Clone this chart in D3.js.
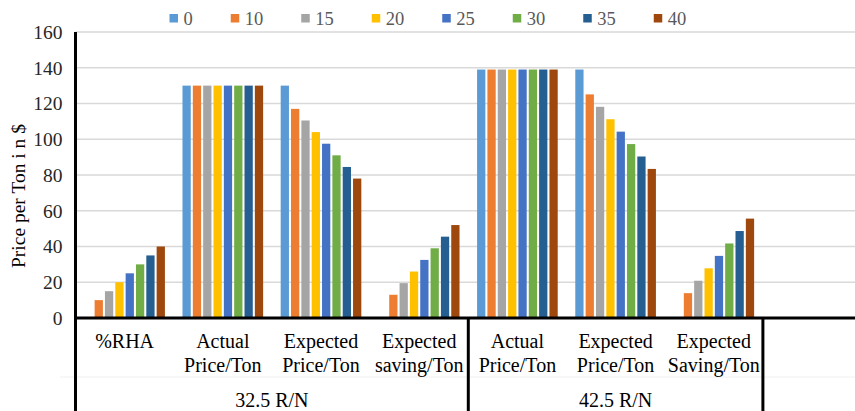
<!DOCTYPE html>
<html>
<head>
<meta charset="utf-8">
<script src="https://cdn.jsdelivr.net/npm/d3@7"></script>
<style>
  html, body { margin: 0; padding: 0; background: #fff; }
</style>
</head>
<body>
<svg id="chart" width="855" height="411"></svg>
<script>
// Categories along the x axis (the last slot is left empty)
const categories = ["%RHA", "Actual Price/Ton", "Expected Price/Ton", "Expected saving/Ton",
                    "Actual Price/Ton ", "Expected Price/Ton ", "Expected Saving/Ton", ""];
const categoryLines = [["%RHA"], ["Actual", "Price/Ton"], ["Expected", "Price/Ton"], ["Expected", "saving/Ton"],
                       ["Actual", "Price/Ton"], ["Expected", "Price/Ton"], ["Expected", "Saving/Ton"], []];
const groups = ["32.5 R/N", "42.5 R/N"];
const groupSpans = [[0, 4], [4, 7]];

// Series: % rice husk ash replacement
const seriesNames = ["0", "10", "15", "20", "25", "30", "35", "40"];
const s0  = [0,  130, 130,   0,    139, 139,    0,     null];
const s10 = [10, 130, 117,   13,   139, 125.1,  13.9,  null];
const s15 = [15, 130, 110.5, 19.5, 139, 118.15, 20.85, null];
const s20 = [20, 130, 104,   26,   139, 111.2,  27.8,  null];
const s25 = [25, 130, 97.5,  32.5, 139, 104.25, 34.75, null];
const s30 = [30, 130, 91,    39,   139, 97.3,   41.7,  null];
const s35 = [35, 130, 84.5,  45.5, 139, 90.35,  48.65, null];
const s40 = [40, 130, 78,    52,   139, 83.4,   55.6,  null];
const seriesValues = [s0, s10, s15, s20, s25, s30, s35, s40];
const colors = ["#5B9BD5", "#ED7D31", "#A5A5A5", "#FFC000", "#4472C4", "#70AD47", "#255E91", "#9E480E"];
const yTicks = [0, 20, 40, 60, 80, 100, 120, 140, 160];

const FONT = "Liberation Serif";
const svg = d3.select("#chart").attr("font-family", FONT);
const plotLeft = 75.5, plotTop = 32, plotBottom = 318;
const bandW = 98.2;

const x0 = d3.scaleBand().domain(categories)
  .range([plotLeft, plotLeft + bandW * categories.length]).padding(0);
const y = d3.scaleLinear().domain([0, 160]).range([plotBottom, plotTop]);

// Gridlines
svg.append("g").selectAll("line").data(yTicks.filter(d => d > 0)).join("line")
  .attr("x1", plotLeft).attr("x2", 855)
  .attr("y1", d => y(d)).attr("y2", d => y(d))
  .attr("stroke", "#d9d9d9").attr("stroke-width", 1.5);

// Bars
const groupW = 82.7;
const x1 = d3.scaleBand().domain(seriesNames)
  .range([-groupW / 2, groupW / 2]).paddingInner(0.2).paddingOuter(0.1);

const barData = [];
seriesValues.forEach((vals, si) => {
  vals.forEach((v, ci) => {
    if (v !== null && v > 0) barData.push({ s: seriesNames[si], c: categories[ci], v, color: colors[si] });
  });
});
svg.append("g").selectAll("rect").data(barData).join("rect")
  .attr("x", d => x0(d.c) + x0.bandwidth() / 2 + x1(d.s))
  .attr("width", x1.bandwidth())
  .attr("y", d => y(d.v))
  .attr("height", d => y(0) - y(d.v))
  .attr("fill", d => d.color);

// Y axis ticks
const yAxis = d3.axisLeft(y).tickValues(yTicks).tickSize(0).tickPadding(13);
const yg = svg.append("g").attr("transform", `translate(${plotLeft},0)`).call(yAxis)
  .attr("font-family", FONT).attr("font-size", 19.5);
yg.select(".domain").remove();
yg.selectAll("text").attr("fill", "#262626");

// Faint rule between the two label levels
svg.append("line").attr("x1", 60).attr("x2", 855).attr("y1", 377).attr("y2", 377)
  .attr("stroke", "#f0f0f0").attr("stroke-width", 1);

// Axis lines
svg.append("line").attr("x1", plotLeft).attr("x2", plotLeft).attr("y1", plotTop).attr("y2", 411)
  .attr("stroke", "#000").attr("stroke-width", 3);
svg.append("line").attr("x1", plotLeft - 1.5).attr("x2", 855).attr("y1", plotBottom).attr("y2", plotBottom)
  .attr("stroke", "#000").attr("stroke-width", 3);
// Group separators
groupSpans.forEach(([a, b]) => {
  const xb = x0(categories[b]);
  svg.append("line").attr("x1", xb).attr("x2", xb).attr("y1", plotBottom).attr("y2", 411)
    .attr("stroke", "#000").attr("stroke-width", 3);
});

// Category labels
const catG = svg.append("g").attr("font-family", FONT).attr("font-size", 20)
  .attr("fill", "#000").attr("text-anchor", "middle");
categories.forEach((c, i) => {
  const cx = x0(c) + x0.bandwidth() / 2;
  categoryLines[i].forEach((t, li) => {
    catG.append("text").attr("x", cx).attr("y", 348 + li * 24).text(t);
  });
});
// Group labels
groups.forEach((g, i) => {
  const [a, b] = groupSpans[i];
  const cx = (x0(categories[a]) + x0(categories[b])) / 2;
  catG.append("text").attr("x", cx).attr("y", 407).text(g);
});

// Y axis title
svg.append("text")
  .attr("transform", "translate(25,196) rotate(-90)")
  .attr("font-family", FONT)
  .attr("text-anchor", "middle").attr("font-size", 19.5).attr("fill", "#000")
  .text("Price per Ton i n $");

// Legend
const legend = svg.append("g").attr("font-family", FONT).attr("font-size", 18.5).attr("fill", "#595959");
let lx = 169.5;
seriesNames.forEach((n, i) => {
  legend.append("rect").attr("x", lx).attr("y", 14).attr("width", 8.5).attr("height", 8.5).attr("fill", colors[i]);
  const t = legend.append("text").attr("x", lx + 14).attr("y", 24.5).text(n);
  const w = t.node().getComputedTextLength();
  lx += 14 + w + 38;
});
</script>
</body>
</html>
